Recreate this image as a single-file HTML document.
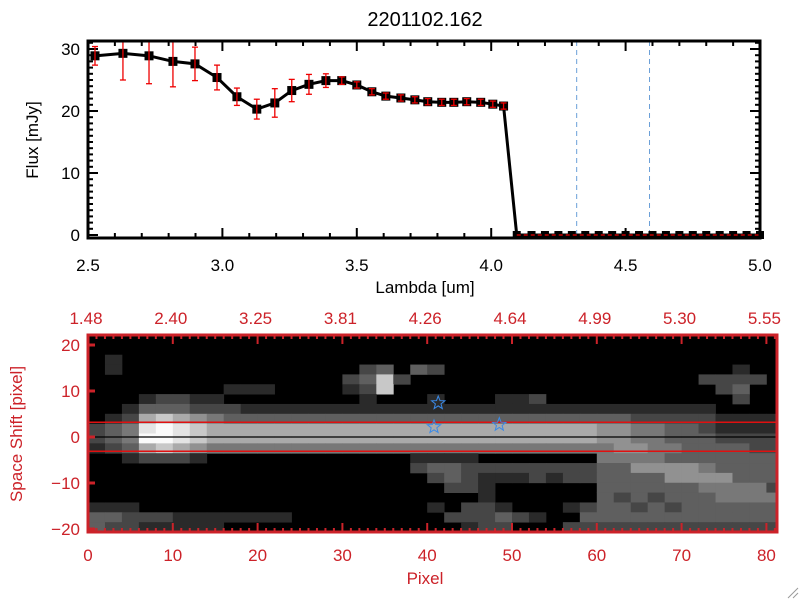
<!DOCTYPE html>
<html><head><meta charset="utf-8"><style>
html,body{margin:0;padding:0;background:#fff;width:800px;height:600px;overflow:hidden}
svg{display:block;font-family:"Liberation Sans",sans-serif}
</style></head><body>
<svg id="root" width="800" height="600" viewBox="0 0 800 600" xmlns="http://www.w3.org/2000/svg">
<rect width="800" height="600" fill="#fff"/>
<text x="425" y="26" font-size="20" text-anchor="middle" fill="#000">2201102.162</text>
<g id="top"></g>
<g id="bot"></g>
<g stroke="#999" stroke-width="1">
<line x1="788" y1="598" x2="798" y2="588"/><line x1="793" y1="598" x2="798" y2="593"/>
</g>
</svg>
<script>
// ---- spectrum data ----
const lambda = [2.526,2.630,2.727,2.816,2.898,2.980,3.054,3.128,3.195,3.258,3.322,3.385,3.444,3.500,3.556,3.608,3.664,3.716,3.764,3.816,3.861,3.909,3.961,4.006,4.046,4.095,4.15,4.20,4.25,4.30,4.35,4.40,4.45,4.50,4.55,4.60,4.65,4.70,4.75,4.80,4.85,4.90,4.95,5.00];
const flux = [28.9,29.3,28.9,28.0,27.6,25.4,22.3,20.3,21.3,23.3,24.3,24.9,24.9,24.2,23.1,22.4,22.1,21.8,21.5,21.4,21.4,21.5,21.4,21.1,20.8,0,0,0,0,0,0,0,0,0,0,0,0,0,0,0,0,0,0,0];
const fluxErr = [1.5,4.3,4.5,4.1,2.7,2.0,1.4,1.6,2.3,1.8,1.6,1.1,0.6,0.5,0.5,0.5,0.5,0.5,0.5,0.5,0.5,0.5,0.5,0.5,0.5,0,0,0,0,0,0,0,0,0,0,0,0,0,0,0,0,0,0,0];
const xTicks = [2.5,3.0,3.5,4.0,4.5,5.0];
const xTickLabels = ["2.5","3.0","3.5","4.0","4.5","5.0"];
const yTicks = [0,10,20,30];
const markerLines = [4.318,4.589];
// ---- image data (intensity 0-9, 2 pixels per col, 20 rows top->bottom) ----
const imgRows = [
"00000000000000000000000000000000000000000",
"00000000000000000000000000000000000000000",
"01000000000000000000000000000000000000000",
"01000000000000002303200000000000000000100",
"00000000000000023720000000000000000022220",
"00000000111000012700000000000000000002300",
"00012211000000001000100011200000000000200",
"00133322211111111111111111111111111110000",
"01267654333333333333333333333333222221111",
"23489876666666666666666666666655443321111",
"23499876666666666666666666666655443332222",
"12367654444444444444444444444445544333322",
"00122210000000000001111000000044443333333",
"00000000000000000002332222222233555543333",
"00000000000000000000232111212233335555333",
"00000000000000000000022100000033333344442",
"00000000000000000000000100000032323334444",
"11100000000000000000102210001233232333333",
"33222111111100000000022232100333333333333",
"32211111000000000000001220002222222222222"];
const starPts = [[41.3,7.4],[40.8,2.2],[48.5,2.7]];
const botXTicks = [0,10,20,30,40,50,60,70,80];
const topXLabels = ["1.48","2.40","3.25","3.81","4.26","4.64","4.99","5.30","5.55"];
const botYTicks = [-20,-10,0,10,20];
const apertureLines = [3.2,-3.1];

const NS="http://www.w3.org/2000/svg";
function mk(tag,attrs,parent){const e=document.createElementNS(NS,tag);for(const k in attrs)e.setAttribute(k,attrs[k]);parent.appendChild(e);return e;}

// ---- top plot ----
const T=document.getElementById('top');
const L=88,R=760,TOP=41,BOT=238;
const sx=v=>L+(v-2.5)*(R-L)/2.5;
const sy=v=>235-v*6.2;
markerLines.forEach(v=>{
 const e=mk('line',{x1:sx(v),x2:sx(v),y1:TOP,y2:BOT,stroke:'#6a9fd8','stroke-width':1,'stroke-dasharray':'5,4'},T);
 
 
});
for(let i=0;i<=25;i++){const v=2.5+i*0.1;const len=(i%5===0)?10:5;
 mk('line',{x1:sx(v),x2:sx(v),y1:BOT,y2:BOT-len,stroke:'#000','stroke-width':2},T);
 mk('line',{x1:sx(v),x2:sx(v),y1:TOP,y2:TOP+len,stroke:'#000','stroke-width':2},T);}
for(let v=0;v<=31;v++){const len=(v%10===0)?10:5;
 mk('line',{x1:L,x2:L+len,y1:sy(v),y2:sy(v),stroke:'#000','stroke-width':2},T);
 mk('line',{x1:R,x2:R-len,y1:sy(v),y2:sy(v),stroke:'#000','stroke-width':2},T);}
xTicks.forEach((v,i)=>{const t=mk('text',{x:sx(v),y:271,'font-size':17,'text-anchor':'middle',fill:'#000'},T);t.textContent=xTickLabels[i];
 
 });
yTicks.forEach(v=>{const t=mk('text',{x:80,y:sy(v)+6,'font-size':17,'text-anchor':'end',fill:'#000'},T);t.textContent=String(v);
 
 });
let xt=mk('text',{x:425,y:293,'font-size':17,'text-anchor':'middle',fill:'#000'},T);xt.textContent='Lambda [um]';


let yt=mk('text',{x:0,y:0,'font-size':17,'text-anchor':'middle',fill:'#000',transform:'translate(38,140) rotate(-90)'},T);yt.textContent='Flux [mJy]';


const pts=lambda.map((v,i)=>sx(v)+','+sy(flux[i])).join(' ');
const pl=mk('polyline',{points:pts,fill:'none',stroke:'#000','stroke-width':3},T);


lambda.forEach((v,i)=>{
 const s=flux[i]>0?9:8;
 const m=mk('rect',{x:sx(v)-s/2,y:sy(flux[i])-s/2,width:s,height:s,fill:'#000'},T);
 
 
});
lambda.forEach((v,i)=>{
 if(fluxErr[i]<=0)return;
 const x=sx(v),y1=Math.max(TOP,sy(flux[i]+fluxErr[i])),y2=sy(flux[i]-fluxErr[i]);
 const g=mk('g',{stroke:'#e00','stroke-width':1.3},T);
 
 
 mk('line',{x1:x,x2:x,y1:y1,y2:y2},g);
 mk('line',{x1:x-3,x2:x+3,y1:y1,y2:y1},g);
 mk('line',{x1:x-3,x2:x+3,y1:y2,y2:y2},g);
});
const zl=mk('line',{x1:sx(4.095),x2:R,y1:sy(0),y2:sy(0),stroke:'#e00','stroke-width':1.3,'stroke-dasharray':'4,3'},T);


mk('rect',{x:L,y:TOP,width:R-L,height:BOT-TOP,fill:'none',stroke:'#000','stroke-width':3},T);

// ---- bottom plot ----
const B=document.getElementById('bot');
const BL=88,BR=777,BT=335,BB=532;
const px=v=>BL+v*8.48;
const py=v=>437-v*4.6;
const rowH=(BB-BT)/imgRows.length;
const greys=[0,42,70,95,120,145,170,200,228,250];
const bg=mk('rect',{x:BL,y:BT,width:BR-BL,height:BB-BT,fill:'#000'},B);


imgRows.forEach((row,r)=>{
 for(let c=0;c<row.length;c++){
  const v=+row[c]; if(!v)continue;
  const g=greys[v];
  const x0=px(c*2), w=Math.min(px(c*2+2),BR)-x0;
  const cell=mk('rect',{x:x0,y:BT+r*rowH,width:w+0.4,height:rowH+0.4,fill:`rgb(${g},${g},${g})`},B);
  
  
 }
});
apertureLines.forEach(v=>{const l=mk('line',{x1:BL,x2:BR,y1:py(v),y2:py(v),stroke:'#e01010','stroke-width':1.5},B);
 
 });
const cl=mk('line',{x1:BL,x2:BR,y1:py(0),y2:py(0),stroke:'#000','stroke-width':1.2},B);


function star(cx,cy,r){let p=[];for(let i=0;i<10;i++){const a=-Math.PI/2+i*Math.PI/5,rr=i%2?r*0.42:r;p.push((cx+rr*Math.cos(a)).toFixed(1)+','+(cy+rr*Math.sin(a)).toFixed(1));}return p.join(' ');}
starPts.forEach(p=>{const s=mk('polygon',{points:star(px(p[0]),py(p[1]),7),fill:'none',stroke:'#3a8ae8','stroke-width':1},B);
 
 });
const RED='#cc2229';
for(let i=0;i<=81;i++){const len=(i%10===0)?9:4;
 mk('line',{x1:px(i),x2:px(i),y1:BB,y2:BB-len,stroke:RED,'stroke-width':2},B);
 mk('line',{x1:px(i),x2:px(i),y1:BT,y2:BT+len,stroke:RED,'stroke-width':2},B);}
botYTicks.forEach(v=>{mk('line',{x1:BL,x2:BL+7,y1:py(v),y2:py(v),stroke:RED,'stroke-width':3},B);});
mk('rect',{x:BL,y:BT,width:BR-BL,height:BB-BT,fill:'none',stroke:RED,'stroke-width':3},B);
botXTicks.forEach((v,i)=>{
 const t=mk('text',{x:px(v),y:561,'font-size':17,'text-anchor':'middle',fill:RED},B);t.textContent=String(v);
 
 
 const u=mk('text',{x:px(v)-2,y:324,'font-size':17,'text-anchor':'middle',fill:RED},B);u.textContent=topXLabels[i];
 
 
});
botYTicks.forEach(v=>{const t=mk('text',{x:80,y:py(v)+6,'font-size':17,'text-anchor':'end',fill:RED},B);t.textContent=String(v).replace('-','\u2212');
 
 });
let bx=mk('text',{x:425,y:584,'font-size':17,'text-anchor':'middle',fill:RED},B);bx.textContent='Pixel';


let by=mk('text',{x:0,y:0,'font-size':17,'text-anchor':'middle',fill:RED,transform:'translate(22,434) rotate(-90)'},B);by.textContent='Space Shift [pixel]';


</script>
</body></html>
